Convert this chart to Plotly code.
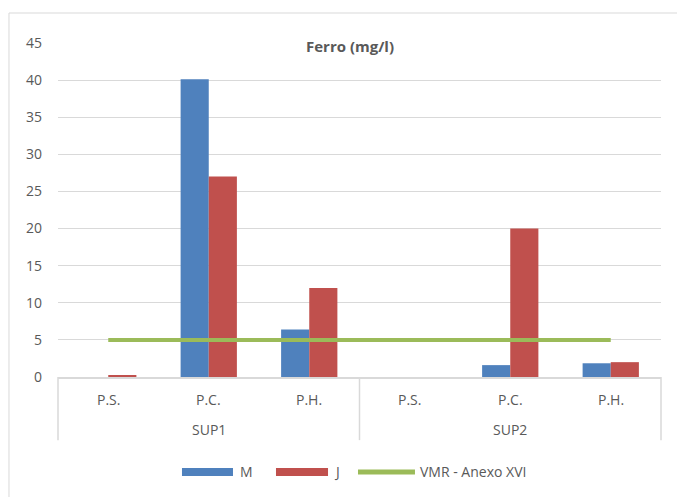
import plotly.graph_objects as go

groups = ["SUP1", "SUP1", "SUP1", "SUP2", "SUP2", "SUP2"]
points = ["P.S.", "P.C.", "P.H.", "P.S.", "P.C.", "P.H."]
group_names = ["SUP1", "SUP2"]
m_vals = [0.0, 40.1, 6.4, 0.0, 1.6, 1.85]
j_vals = [0.15, 27.0, 12.0, 0.0, 20.0, 2.0]
vmr_vals = [5, 5, 5, 5, 5, 5]
series_names = ["M", "J", "VMR - Anexo XVI"]
colors = ["#4F81BD", "#C0504D", "#9BBB59"]

x = [groups, points]
font_fam = "Open Sans, Liberation Sans, Arial"
grey = "#595959"
axis_grey = "#D9D9D9"
fs = 14

fig = go.Figure()
fig.add_trace(go.Bar(x=x, y=m_vals, name=series_names[0], marker=dict(color=colors[0], line=dict(width=0))))
fig.add_trace(go.Bar(x=x, y=j_vals, name=series_names[1], marker=dict(color=colors[1], line=dict(width=0))))
fig.add_trace(go.Scatter(x=x, y=vmr_vals, name=series_names[2], mode="lines",
                         line=dict(color=colors[2], width=4)))

annotations = []
shapes = []
n = len(points)
# category labels
for i, p in enumerate(points):
    annotations.append(dict(text=p, xref="paper", yref="paper", x=(i + 0.5) / n, y=-0.066,
                            showarrow=False, xanchor="center", yanchor="middle",
                            font=dict(size=fs, color=grey, family=font_fam)))
for g_i, g in enumerate(group_names):
    annotations.append(dict(text=g, xref="paper", yref="paper", x=(g_i + 0.5) / len(group_names),
                            y=-0.156, showarrow=False, xanchor="center", yanchor="middle",
                            font=dict(size=fs, color=grey, family=font_fam)))
for xd in [0, 0.5, 1]:
    shapes.append(dict(type="line", xref="paper", yref="paper", x0=xd, x1=xd, y0=0, y1=-0.189,
                       line=dict(color=axis_grey, width=1.5)))

# legend (Excel-like)
leg_y = -0.2844
leg_items = [(0.2056, 0.2902, 0.2985, 0.024), (0.3615, 0.4478, 0.4544, 0.024), (0.4975, 0.592, 0.597, 0.015)]
for (x0, x1, xt, h), name, c in zip(leg_items, series_names, colors):
    shapes.append(dict(type="rect", xref="paper", yref="paper", x0=x0, x1=x1,
                       y0=leg_y - h / 2, y1=leg_y + h / 2, fillcolor=c, line=dict(width=0)))
    annotations.append(dict(text=name, xref="paper", yref="paper", x=xt, y=leg_y,
                            showarrow=False, xanchor="left", yanchor="middle",
                            font=dict(size=fs, color=grey, family=font_fam)))

# chart border
shapes.append(dict(type="rect", xref="paper", yref="paper", x0=-0.0813, x1=1.2, y0=-0.7, y1=1.0898,
                   line=dict(color=axis_grey, width=1), layer="below"))

fig.update_layout(
    width=677, height=497,
    margin=dict(l=58, r=16, t=43, b=120),
    paper_bgcolor="white", plot_bgcolor="white",
    bargap=0.44, bargroupgap=0,
    font=dict(family=font_fam, size=fs, color=grey),
    title=dict(text="<b>Ferro (mg/l)</b>", x=0.517, xanchor="center", y=0.905, yanchor="middle",
               font=dict(size=15, color=grey, family=font_fam)),
    showlegend=False,
    yaxis=dict(range=[0, 45], dtick=5, showgrid=True, gridcolor=axis_grey, gridwidth=1,
               zeroline=False, showline=False, ticks="", ticklabelstandoff=15,
               tickfont=dict(size=fs, color=grey)),
    xaxis=dict(showline=True, linecolor=axis_grey, linewidth=1.5, showdividers=False,
               showticklabels=False, ticks=""),
    annotations=annotations,
    shapes=shapes,
)

fig.write_html("out.html")
